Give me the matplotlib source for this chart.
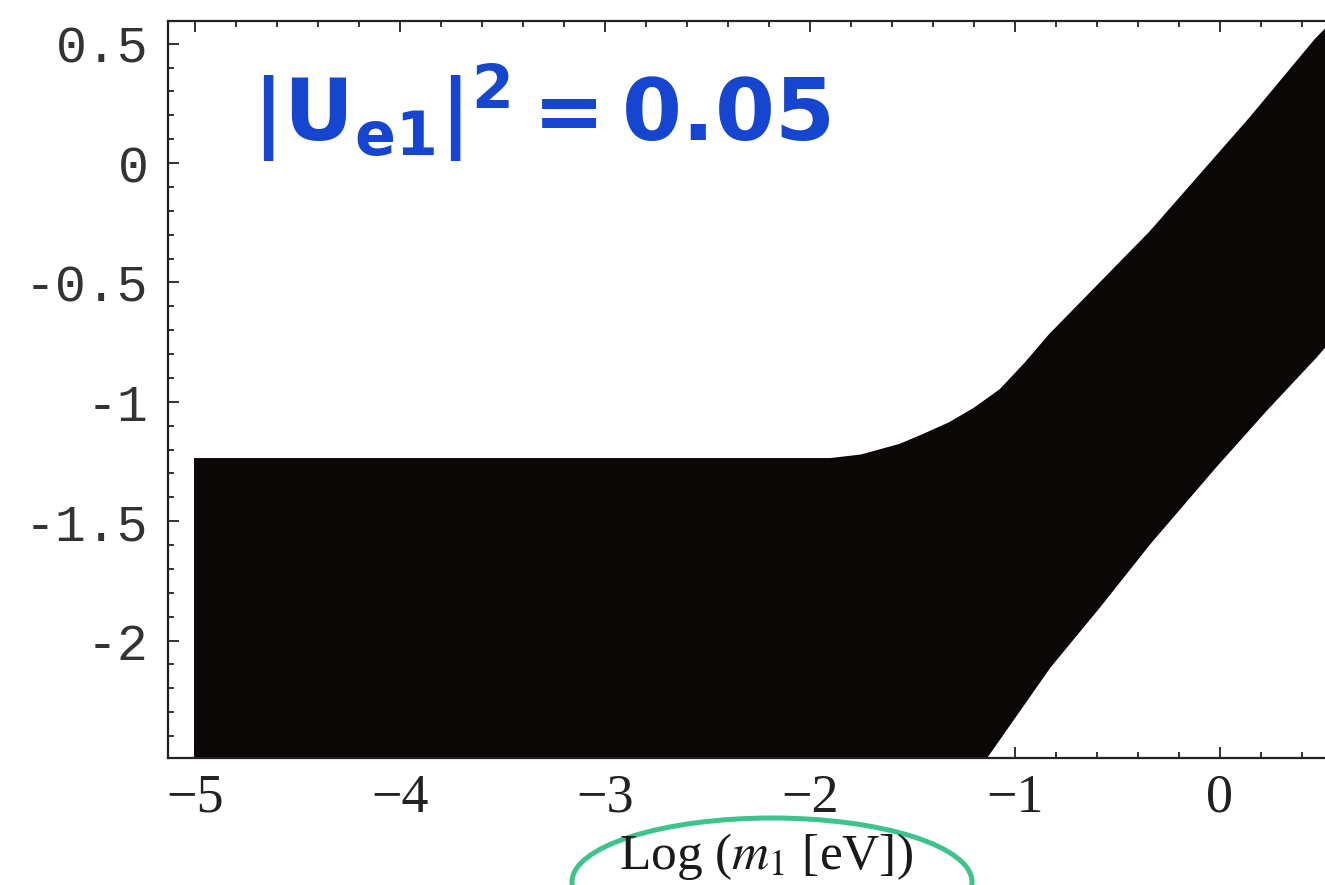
import matplotlib
matplotlib.use("Agg")
import matplotlib.pyplot as plt
from matplotlib.patches import Ellipse
from matplotlib.ticker import MultipleLocator, FixedLocator, FixedFormatter

# Allowed band in the (log m1, log <m>) plane for |U_e1|^2 = 0.05
upper_x = [-5.0, -1.90, -1.75, -1.56, -1.45, -1.32, -1.20, -1.07, -0.95,
           -0.83, -0.34, 0.15, 0.47, 0.54]
upper_y = [-1.24, -1.24, -1.225, -1.18, -1.14, -1.09, -1.03, -0.95, -0.84,
           -0.72, -0.29, 0.19, 0.52, 0.58]
lower_x = [-5.0, -1.30, -1.14, -0.83, -0.59, -0.34, -0.02, 0.23, 0.47, 0.54]
lower_y = [-2.65, -2.65, -2.49, -2.11, -1.86, -1.59, -1.27, -1.03, -0.81, -0.74]

x_ticks = [-5, -4, -3, -2, -1, 0]
x_tick_labels = ["\u22125", "\u22124", "\u22123", "\u22122", "\u22121", "0"]
y_ticks = [0.5, 0, -0.5, -1, -1.5, -2]
y_tick_labels = ["0.5", "0", "-0.5", "-1", "-1.5", "-2"]

W, H = 1325, 885
fig = plt.figure(figsize=(W / 100, H / 100), dpi=100)
fig.patch.set_facecolor("white")

ax = fig.add_axes([168 / W, 1 - 758 / H, (1332 - 168) / W, (758 - 21) / H])
ax.set_xlim(-5.132, 0.547)
ax.set_ylim(-2.492, 0.595)

band_x = upper_x + lower_x[::-1]
band_y = upper_y + lower_y[::-1]
band_color = "#0b0707"
ax.fill(band_x, band_y, facecolor=band_color, edgecolor=band_color,
        lw=1.5, zorder=2)

for s in ax.spines.values():
    s.set_linewidth(1.6)
    s.set_color("#222222")
    s.set_zorder(3)

ax.xaxis.set_major_locator(FixedLocator(x_ticks))
ax.xaxis.set_major_formatter(FixedFormatter(x_tick_labels))
ax.yaxis.set_major_locator(FixedLocator(y_ticks))
ax.yaxis.set_major_formatter(FixedFormatter(y_tick_labels))
ax.xaxis.set_minor_locator(MultipleLocator(0.2))
ax.yaxis.set_minor_locator(MultipleLocator(0.1))
ax.tick_params(which="both", direction="in", top=True, right=False,
               color="#222222", width=1.3)
ax.tick_params(which="major", length=8)
ax.tick_params(which="minor", length=4)
ax.tick_params(axis="x", which="major", pad=11, labelsize=39, labelcolor="#222222")
ax.tick_params(axis="y", which="major", pad=14, labelsize=37, labelcolor="#333333")
for lab in ax.get_xticklabels():
    lab.set_fontfamily("Liberation Serif")
for lab in ax.get_yticklabels():
    lab.set_fontfamily("Liberation Mono")

# axis title
fig.text(766 / W, 1 - 856 / H, "Log ($m_1$ [eV])", ha="center", va="center",
         fontsize=37, family="Liberation Serif", math_fontfamily="stix",
         color="#1a1a1a")

# hand-drawn loop around the axis title
fig.patches.append(Ellipse((772 / W, 1 - 882 / H), 400 / W, 128 / H,
                           transform=fig.transFigure, fill=False,
                           edgecolor="#3cc48c", linewidth=3.6))

# handwritten note
fig.text(252 / W, 1 - 142 / H, r"$\mathbf{|U_{e1}|^2 = 0.05}$",
         ha="left", va="baseline", fontsize=62, color="#1646cf",
         math_fontfamily="dejavusans")

fig.savefig("out.png", dpi=100, facecolor="white")
